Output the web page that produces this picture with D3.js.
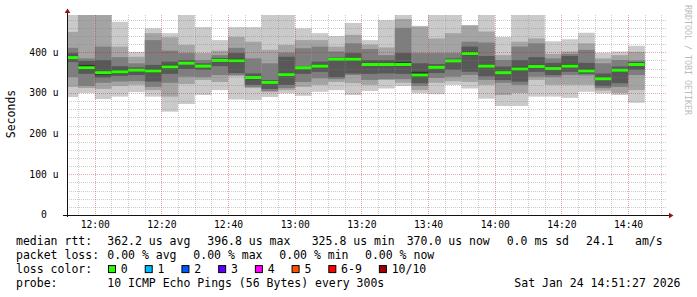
<!DOCTYPE html>
<html>
<head>
<meta charset="utf-8">
<script src="https://cdn.jsdelivr.net/npm/d3@7"></script>
<style>
  body { margin: 0; background: #fff; }
  text { font-family: "DejaVu Sans Mono", monospace; fill: #000; }
</style>
</head>
<body>
<div id="chart"></div>
<script>
// column end times (5 min steps), each column covers the 5 minutes before it
var times = ["11:55", "12:00", "12:05", "12:10", "12:15", "12:20", "12:25", "12:30", "12:35", "12:40",
  "12:45", "12:50", "12:55", "13:00", "13:05", "13:10", "13:15", "13:20", "13:25", "13:30",
  "13:35", "13:40", "13:45", "13:50", "13:55", "14:00", "14:05", "14:10", "14:15", "14:20",
  "14:25", "14:30", "14:35", "14:40", "14:45"];

// 10 sorted ping rtts per column, in us
var pings = [
  [290, 315, 339, 376, 384, 391, 398, 411, 450, 492],
  [300, 312, 317, 347, 357, 369, 379, 385, 492, 492],
  [285, 310, 325, 338, 344, 354, 381, 414, 492, 492],
  [291, 317, 328, 342, 348, 357, 366, 388, 414, 475],
  [302, 320, 329, 344, 352, 358, 363, 373, 389, 401],
  [291, 307, 315, 328, 349, 359, 369, 430, 447, 459],
  [254, 291, 325, 347, 359, 369, 377, 404, 437, 447],
  [273, 322, 340, 359, 369, 376, 381, 398, 418, 492],
  [295, 332, 339, 357, 364, 369, 373, 381, 398, 462],
  [307, 327, 344, 366, 376, 382, 386, 393, 404, 430],
  [284, 341, 344, 349, 374, 384, 398, 411, 438, 462],
  [283, 312, 315, 320, 334, 341, 348, 385, 426, 462],
  [290, 302, 305, 310, 323, 328, 332, 373, 406, 492],
  [299, 307, 312, 320, 341, 349, 389, 399, 418, 492],
  [293, 315, 327, 347, 360, 364, 366, 410, 430, 459],
  [303, 320, 336, 352, 363, 370, 377, 414, 430, 447],
  [307, 327, 334, 339, 380, 385, 388, 402, 414, 440],
  [295, 324, 344, 348, 379, 387, 398, 422, 443, 472],
  [305, 320, 332, 347, 368, 374, 381, 408, 419, 430],
  [311, 332, 334, 348, 368, 374, 381, 393, 412, 479],
  [317, 325, 334, 347, 366, 376, 398, 460, 482, 492],
  [299, 307, 317, 324, 339, 352, 373, 398, 463, 465],
  [297, 325, 337, 349, 360, 365, 371, 398, 434, 492],
  [320, 329, 340, 357, 377, 381, 385, 398, 447, 492],
  [311, 327, 344, 352, 393, 401, 414, 426, 466, 467],
  [286, 320, 332, 341, 363, 370, 391, 424, 451, 492],
  [268, 295, 325, 332, 347, 354, 365, 381, 393, 438],
  [268, 300, 320, 328, 355, 364, 381, 414, 426, 492],
  [291, 332, 340, 352, 361, 369, 388, 422, 434, 492],
  [291, 320, 339, 344, 357, 364, 374, 385, 396, 427],
  [288, 320, 344, 352, 363, 371, 391, 396, 402, 432],
  [303, 320, 343, 347, 350, 359, 374, 406, 422, 448],
  [299, 306, 312, 317, 332, 339, 348, 373, 385, 399],
  [295, 300, 315, 324, 353, 359, 365, 381, 393, 402],
  [276, 307, 344, 357, 368, 374, 376, 380, 401, 416]
];

var medians = [387, 362, 350, 352, 356, 354, 364, 373, 366, 380,
  379, 338, 326, 345, 362, 366, 383, 383, 370, 370,
  370, 344, 363, 379, 397, 366, 350, 359, 365, 360,
  366, 354, 335, 356, 370];

var yTicks = [0, 100, 200, 300, 400];
var yTickLabels = ["0  ", "100 u", "200 u", "300 u", "400 u"];

var rttStats = ["362.2", "396.8", "325.8", "370.0"];
var lossStats = ["0.00", "0.00", "0.00", "0.00"];
var statNames = ["avg", "max", "min", "now"];

var lossLabels = ["0", "1", "2", "3", "4", "5", "6-9", "10/10"];
var lossColors = ["#26ff00", "#00b8ff", "#0059ff", "#5e00ff", "#ff00ff", "#ff5500", "#ff0000", "#a10000"];

var smokeShades = ["#cacaca", "#a4a4a4", "#7e7e7e", "#585858", "#323232"];

var size = {
  width: 697,
  height: 297,
  left: 67,
  right: 667,
  top: 15,
  bottom: 215
};

function toDate(hm) {
  var p = hm.split(":");
  return new Date(2026, 0, 24, +p[0], +p[1], 0);
}

var start = new Date(2026, 0, 24, 11, 51, 40);
var end = new Date(2026, 0, 24, 14, 51, 40);
var step = 5 * 60 * 1000;

var xScale = d3.scaleTime().domain([start, end]).range([size.left, size.right]);
var yScale = d3.scaleLinear().domain([0, 491.7]).range([size.bottom, size.top]);

var svg = d3.select("#chart")
  .append("svg")
  .attr("width", size.width)
  .attr("height", size.height);

svg.append("defs").append("clipPath")
  .attr("id", "plot")
  .append("rect")
  .attr("x", size.left)
  .attr("y", size.top)
  .attr("width", size.right - size.left)
  .attr("height", size.bottom - size.top);

var rows = times.map(function (t, i) {
  return {t1: toDate(t), t0: new Date(toDate(t).getTime() - step), p: pings[i], median: medians[i]};
});

var plot = svg.append("g").attr("clip-path", "url(#plot)");

// smoke: outer pair lightest, inner pair darkest
smokeShades.forEach(function (shade, k) {
  plot.selectAll("rect.smoke" + k)
    .data(rows)
    .enter()
    .append("rect")
    .attr("class", "smoke" + k)
    .attr("x", function (d) { return xScale(d.t0); })
    .attr("width", function (d) { return xScale(d.t1) - xScale(d.t0); })
    .attr("y", function (d) { return yScale(d.p[9 - k]); })
    .attr("height", function (d) { return yScale(d.p[k]) - yScale(d.p[9 - k]); })
    .attr("fill", shade);
});

plot.selectAll("rect.median")
  .data(rows)
  .enter()
  .append("rect")
  .attr("class", "median")
  .attr("x", function (d) { return xScale(d.t0); })
  .attr("width", function (d) { return xScale(d.t1) - xScale(d.t0); })
  .attr("y", function (d) { return yScale(d.median) - 1.5; })
  .attr("height", 3)
  .attr("fill", lossColors[0]);

// grid on top of the data, like rrdtool
var grid = svg.append("g");
var minorY = d3.range(20, 491, 20).filter(function (v) { return v % 100 !== 0; });
var minorX = xScale.ticks(d3.timeMinute.every(5)).filter(function (t) { return t.getMinutes() % 20 !== 0; });
var majorX = xScale.ticks(d3.timeMinute.every(20));

grid.selectAll("line.minory")
  .data(minorY)
  .enter().append("line")
  .attr("x1", size.left).attr("x2", size.right)
  .attr("y1", function (d) { return Math.round(yScale(d)) + 0.5; })
  .attr("y2", function (d) { return Math.round(yScale(d)) + 0.5; })
  .attr("stroke", "rgba(128,128,128,0.4)")
  .attr("stroke-dasharray", "1,1");

grid.selectAll("line.minorx")
  .data(minorX)
  .enter().append("line")
  .attr("y1", size.top).attr("y2", size.bottom)
  .attr("x1", function (d) { return Math.round(xScale(d)) + 0.5; })
  .attr("x2", function (d) { return Math.round(xScale(d)) + 0.5; })
  .attr("stroke", "rgba(128,128,128,0.4)")
  .attr("stroke-dasharray", "1,1");

grid.selectAll("line.majory")
  .data(yTicks.slice(1))
  .enter().append("line")
  .attr("x1", size.left).attr("x2", size.right)
  .attr("y1", function (d) { return Math.round(yScale(d)) + 0.5; })
  .attr("y2", function (d) { return Math.round(yScale(d)) + 0.5; })
  .attr("stroke", "rgba(210,0,0,0.35)")
  .attr("stroke-dasharray", "1,1");

grid.selectAll("line.majorx")
  .data(majorX)
  .enter().append("line")
  .attr("y1", size.top).attr("y2", size.bottom)
  .attr("x1", function (d) { return Math.round(xScale(d)) + 0.5; })
  .attr("x2", function (d) { return Math.round(xScale(d)) + 0.5; })
  .attr("stroke", "rgba(210,0,0,0.35)")
  .attr("stroke-dasharray", "1,1");

// axes
svg.append("line")
  .attr("x1", size.left - 4).attr("x2", size.right + 4)
  .attr("y1", size.bottom + 0.5).attr("y2", size.bottom + 0.5)
  .attr("stroke", "#111");
svg.append("line")
  .attr("x1", size.left + 0.5).attr("x2", size.left + 0.5)
  .attr("y1", size.bottom + 2).attr("y2", size.top - 4)
  .attr("stroke", "#111");
svg.append("path")
  .attr("d", "M" + (size.right + 6.5) + "," + (size.bottom + 0.5) + "l-4.5,-2.8v5.6z")
  .attr("fill", "#991111");
svg.append("path")
  .attr("d", "M" + (size.left + 0.5) + "," + (size.top - 6.5) + "l-2.8,4.5h5.6z")
  .attr("fill", "#991111");

svg.selectAll("text.ylab")
  .data(yTicks)
  .enter().append("text")
  .attr("class", "ylab")
  .attr("x", 58.5)
  .attr("y", function (d) { return yScale(d); })
  .attr("dy", "0.35em")
  .attr("text-anchor", "end")
  .attr("xml:space", "preserve")
  .style("white-space", "pre")
  .style("font-size", "9.7px")
  .text(function (d, i) { return yTickLabels[i]; });

svg.selectAll("text.xlab")
  .data(majorX)
  .enter().append("text")
  .attr("class", "xlab")
  .attr("x", function (d) { return xScale(d) + 0.5; })
  .attr("y", 228)
  .attr("text-anchor", "middle")
  .style("font-size", "9.7px")
  .text(d3.timeFormat("%H:%M"));

svg.append("text")
  .attr("transform", "translate(10.5,114) rotate(-90)")
  .attr("dy", "0.35em")
  .attr("text-anchor", "middle")
  .style("font-size", "11.5px")
  .text("Seconds");

svg.append("text")
  .attr("transform", "translate(688,5) rotate(90)")
  .attr("dy", "0.35em")
  .style("font-size", "8.3px")
  .style("fill", "#bbbbbb")
  .text("RRDTOOL / TOBI OETIKER");

// legend
var legend = svg.append("g")
  .attr("xml:space", "preserve")
  .style("white-space", "pre")
  .style("font-size", "11.5px");
var rowY = [244.5, 258.8, 273.1, 287.4];

function put(txt, x, y, anchor) {
  legend.append("text").attr("x", x).attr("y", y)
    .attr("text-anchor", anchor || "start").text(txt);
}

put("median rtt:", 16, rowY[0]);
[107.3, 207.3, 311.7, 406.7].forEach(function (x, i) {
  put(rttStats[i] + " us " + statNames[i], x, rowY[0]);
});
put("0.0 ms sd", 506.7, rowY[0]);
put("24.1", 586, rowY[0]);
put("am/s", 635, rowY[0]);

put("packet loss:", 16, rowY[1]);
[107.3, 193.3, 279.3, 365].forEach(function (x, i) {
  put(lossStats[i] + " % " + statNames[i], x, rowY[1]);
});

put("loss color:", 16, rowY[2]);
var bx = 108.5;
lossLabels.forEach(function (lab, i) {
  legend.append("rect")
    .attr("x", bx).attr("y", rowY[2] - 7.5)
    .attr("width", 7).attr("height", 7)
    .attr("fill", lossColors[i])
    .attr("stroke", "#000").attr("stroke-width", 1);
  put(lab, bx + 12.3, rowY[2]);
  bx += 12.3 + lab.length * 6.92 + 17.5;
});

put("probe:", 16, rowY[3]);
put("10 ICMP Echo Pings (56 Bytes) every 300s", 107.3, rowY[3]);
put("Sat Jan 24 14:51:27 2026", 680.5, rowY[3], "end");
</script>
</body>
</html>
